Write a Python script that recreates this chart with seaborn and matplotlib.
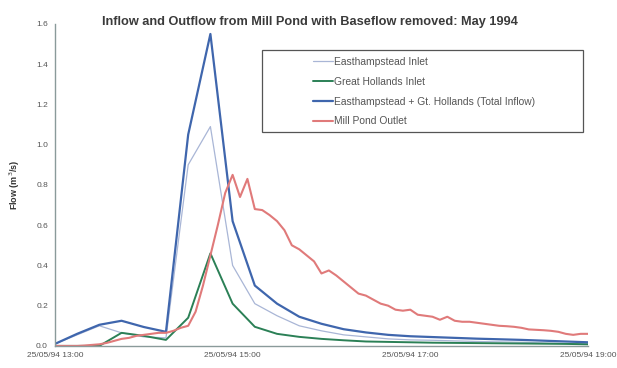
import pandas as pd
import matplotlib
matplotlib.use("Agg")
import matplotlib.pyplot as plt
import matplotlib.dates as mdates
from matplotlib.patches import Rectangle
import seaborn as sns

# =========================
# data
# =========================
DAY = "1994-05-25 "

times_15 = ["13:00", "13:15", "13:30", "13:45", "14:00", "14:15", "14:30", "14:45",
            "15:00", "15:15", "15:30", "15:45", "16:00", "16:15", "16:30", "16:45",
            "17:00", "17:15", "17:30", "17:45", "18:00", "18:15", "18:30", "18:45", "19:00"]

easthampstead = [0.01, 0.055, 0.10, 0.065, 0.045, 0.04, 0.90, 1.09,
                 0.40, 0.21, 0.15, 0.10, 0.075, 0.055, 0.045, 0.035,
                 0.03, 0.028, 0.025, 0.022, 0.02, 0.018, 0.015, 0.012, 0.01]

great_hollands = [0.0, 0.0, 0.0, 0.065, 0.05, 0.03, 0.14, 0.46,
                  0.21, 0.095, 0.06, 0.045, 0.035, 0.028, 0.022, 0.02,
                  0.018, 0.016, 0.015, 0.014, 0.013, 0.012, 0.011, 0.01, 0.008]

total_inflow = [0.01, 0.06, 0.105, 0.125, 0.094, 0.07, 1.05, 1.55,
                0.62, 0.30, 0.21, 0.145, 0.11, 0.083, 0.067, 0.055,
                0.048, 0.044, 0.04, 0.036, 0.033, 0.03, 0.026, 0.022, 0.018]

times_5 = [f"{h:02d}:{m:02d}" for h in range(13, 19) for m in range(0, 60, 5)] + ["19:00"]

outlet = [0.0, 0.0, 0.0, 0.0, 0.002, 0.005, 0.008, 0.015, 0.025, 0.035, 0.04, 0.05,
          0.055, 0.06, 0.065, 0.065, 0.075, 0.09, 0.10, 0.17, 0.30, 0.45, 0.60, 0.76,
          0.85, 0.74, 0.83, 0.68, 0.675, 0.65, 0.62, 0.575, 0.50, 0.48, 0.45, 0.42,
          0.36, 0.375, 0.35, 0.32, 0.29, 0.26, 0.25, 0.23, 0.21, 0.20, 0.18, 0.175,
          0.18, 0.155, 0.15, 0.145, 0.13, 0.145, 0.125, 0.12, 0.12, 0.115, 0.11, 0.105,
          0.10, 0.098, 0.095, 0.09, 0.082, 0.08, 0.078, 0.075, 0.07, 0.06, 0.055, 0.06,
          0.06]

x_ticks = ["13:00", "15:00", "17:00", "19:00"]

# =========================
# plot
# =========================
sns.set_style("white")
plt.rcParams["font.family"] = ["Liberation Sans", "DejaVu Sans"]

t15 = pd.to_datetime([DAY + t for t in times_15])
t5 = pd.to_datetime([DAY + t for t in times_5])

fig = plt.figure(figsize=(6.17, 3.68), dpi=100)
ax = fig.add_axes([0.089, 0.060, 0.864, 0.875])

sns.lineplot(x=t15, y=easthampstead, ax=ax, color="#a9b6d6", linewidth=0.9,
             label="Easthampstead Inlet")
sns.lineplot(x=t15, y=great_hollands, ax=ax, color="#2b8056", linewidth=1.4,
             label="Great Hollands Inlet")
sns.lineplot(x=t15, y=total_inflow, ax=ax, color="#3f66ad", linewidth=1.6,
             label="Easthampstead + Gt. Hollands (Total Inflow)")
sns.lineplot(x=t5, y=outlet, ax=ax, color="#e07a7a", linewidth=1.5,
             label="Mill Pond Outlet")

ax.set_ylim(0, 1.6)
ax.set_xlim(t15[0], t15[-1])
ax.set_yticks([0.0, 0.2, 0.4, 0.6, 0.8, 1.0, 1.2, 1.4, 1.6])
ax.yaxis.set_major_formatter(matplotlib.ticker.FormatStrFormatter("%.1f"))
ax.set_xticks(pd.to_datetime([DAY + t for t in x_ticks]))
ax.xaxis.set_major_formatter(mdates.DateFormatter("%d/%m/%y %H:%M"))

for side in ["top", "right"]:
    ax.spines[side].set_visible(False)
for side in ["left", "bottom"]:
    ax.spines[side].set_color("#8a9a9a")
    ax.spines[side].set_linewidth(1.0)
ax.tick_params(axis="both", labelsize=6, colors="#555555", length=3,
               direction="inout", width=0.8)
ax.tick_params(axis="x", pad=3)

ax.set_xlabel("")
ax.set_ylabel("Flow (m$^3$/s)", fontsize=6.5, fontweight="bold", color="#333333",
              labelpad=10)
fig.suptitle("Inflow and Outflow from Mill Pond with Baseflow removed: May 1994",
             fontsize=9.2, fontweight="bold", color="#3a3a3a",
             x=310 / 617, y=1 - 22 / 368, va="center")

# legend box (wide frame with the entries sitting in its middle)
ax.add_patch(Rectangle((0.388, 0.665), 0.602, 0.255, transform=ax.transAxes,
                       facecolor="white", edgecolor="#555555", linewidth=0.9,
                       zorder=4))
leg = ax.legend(loc="upper left", bbox_to_anchor=(0.484, 0.897), fontsize=7.4,
                frameon=False, handlelength=1.95, handletextpad=0.1,
                labelspacing=0.95, borderpad=0, borderaxespad=0)
leg.set_zorder(5)
for txt in leg.get_texts():
    txt.set_color("#555555")

plt.savefig("out.png", dpi=100)
